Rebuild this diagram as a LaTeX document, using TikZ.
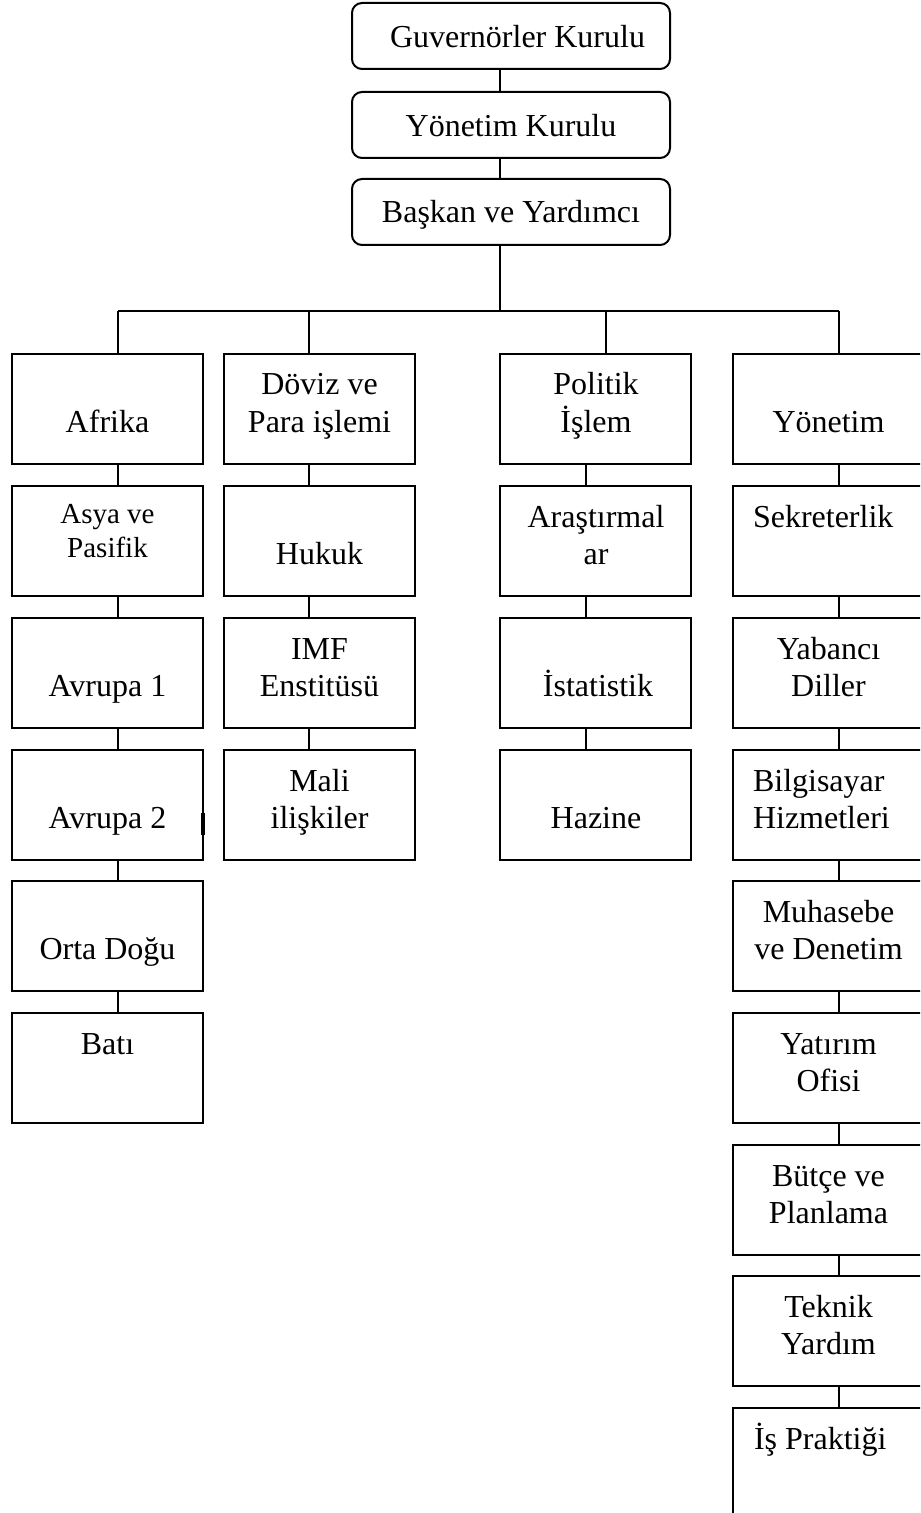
\documentclass[tikz,border=0pt]{standalone}
\usepackage{fontspec}
\setmainfont{Liberation Serif}
\begin{document}
\begin{tikzpicture}[x=0.5pt,y=-0.5pt,line width=1pt,
  topbox/.style={draw,rounded corners=5pt,minimum width=159pt,minimum height=33pt,inner sep=0pt,outer sep=0pt,anchor=north west},
  orgbox/.style={draw,minimum width=95.5pt,minimum height=55pt,inner sep=0pt,outer sep=0pt,anchor=north west},
  openbox/.style={orgbox,minimum height=60pt},
  lbl/.style={inner sep=0pt,outer sep=0pt,font=\fontsize{16pt}{18.5pt}\selectfont,anchor=base},
  lbll/.style={lbl,anchor=base west},
  small/.style={lbl,font=\fontsize{14.5pt}{17pt}\selectfont},
  link/.style={draw,line width=1pt}]
\useasboundingbox (0,0) rectangle (920,1513);
\clip (0,0) rectangle (920,1513);
% guide coordinates
\coordinate (tx) at (500,0);
\coordinate (bus) at (0,311);
\coordinate (x1) at (118,0);
\coordinate (x2) at (309,0);
\coordinate (x3) at (606,0);
\coordinate (x3i) at (586,0);
\coordinate (x4) at (839,0);
% top boxes
\node[topbox] (gov) at (352,3) {};
\node[lbll] (gov-t) at (390,48) {Guvernörler Kurulu};
\node[topbox] (yk) at (352,92) {};
\node[lbl] (yk-t) at (511,137) {Yönetim Kurulu};
\node[topbox] (bsk) at (352,179) {};
\node[lbl] (bsk-t) at (511,223) {Başkan ve Yardımcı};
% column 1
\node[orgbox] (afrika) at (12,354) {};
\node[orgbox] (asya) at (12,486) {};
\node[orgbox] (avr1) at (12,618) {};
\node[orgbox] (avr2) at (12,750) {};
\node[orgbox] (orta) at (12,881) {};
\node[orgbox] (bati) at (12,1013) {};
\node[lbl] (afrika-t) at (107.5,432) {Afrika};
\node[small] (asya-t1) at (107.5,523) {Asya ve};
\node[small] (asya-t2) at (107.5,557) {Pasifik};
\node[lbl] (avr1-t) at (107.5,696) {Avrupa 1};
\node[lbl] (avr2-t) at (107.5,828) {Avrupa 2};
\node[lbl] (orta-t) at (107.5,959) {Orta Doğu};
\node[lbl] (bati-t) at (107.5,1054) {Batı};
% column 2
\node[orgbox] (doviz) at (224,354) {};
\node[orgbox] (hukuk) at (224,486) {};
\node[orgbox] (imf) at (224,618) {};
\node[orgbox] (mali) at (224,750) {};
\node[lbl] (doviz-t1) at (319.5,395) {Döviz ve};
\node[lbl] (doviz-t2) at (319.5,432) {Para işlemi};
\node[lbl] (hukuk-t) at (319.5,564) {Hukuk};
\node[lbl] (imf-t1) at (319.5,659) {IMF};
\node[lbl] (imf-t2) at (319.5,696) {Enstitüsü};
\node[lbl] (mali-t1) at (319.5,791) {Mali};
\node[lbl] (mali-t2) at (319.5,828) {ilişkiler};
% column 3
\node[orgbox] (politik) at (500,354) {};
\node[orgbox] (arast) at (500,486) {};
\node[orgbox] (istat) at (500,618) {};
\node[orgbox] (hazine) at (500,750) {};
\node[lbl] (politik-t1) at (596,395) {Politik};
\node[lbl] (politik-t2) at (596,432) {İşlem};
\node[lbl] (arast-t1) at (596,527) {Araştırmal};
\node[lbl] (arast-t2) at (596,564) {ar};
\node[lbl] (istat-t) at (598,696) {İstatistik};
\node[lbl] (hazine-t) at (596,828) {Hazine};
% column 4
\node[orgbox] (yon) at (733,354) {};
\node[orgbox] (sekr) at (733,486) {};
\node[orgbox] (yab) at (733,618) {};
\node[orgbox] (bilg) at (733,750) {};
\node[orgbox] (muh) at (733,881) {};
\node[orgbox] (yat) at (733,1013) {};
\node[orgbox] (butce) at (733,1145) {};
\node[orgbox] (tek) at (733,1276) {};
\node[openbox] (is) at (733,1408) {};
\node[lbl] (yon-t) at (828.5,432) {Yönetim};
\node[lbll] (sekr-t) at (753,527) {Sekreterlik};
\node[lbl] (yab-t1) at (828.5,659) {Yabancı};
\node[lbl] (yab-t2) at (828.5,696) {Diller};
\node[lbll] (bilg-t1) at (753,791) {Bilgisayar};
\node[lbll] (bilg-t2) at (753,828) {Hizmetleri};
\node[lbl] (muh-t1) at (828.5,922) {Muhasebe};
\node[lbl] (muh-t2) at (828.5,959) {ve Denetim};
\node[lbl] (yat-t1) at (828.5,1054) {Yatırım};
\node[lbl] (yat-t2) at (828.5,1091) {Ofisi};
\node[lbl] (butce-t1) at (828.5,1186) {Bütçe ve};
\node[lbl] (butce-t2) at (828.5,1223) {Planlama};
\node[lbl] (tek-t1) at (828.5,1317) {Teknik};
\node[lbl] (tek-t2) at (828.5,1354) {Yardım};
\node[lbll] (is-t) at (754,1449) {İş Praktiği};
% connectors: top
\draw[link] (gov.south -| tx) -- (yk.north -| tx);
\draw[link] (yk.south -| tx) -- (bsk.north -| tx);
\draw[link] (bsk.south -| tx) -- (bus -| tx);
\draw[link] (bus -| x1) -- (bus -| x4);
\draw[link] (bus -| x1) -- (afrika.north -| x1);
\draw[link] (bus -| x2) -- (doviz.north -| x2);
\draw[link] (bus -| x3) -- (politik.north -| x3);
\draw[link] (bus -| x4) -- (yon.north -| x4);
% column 1
\draw[link] (afrika.south -| x1) -- (asya.north -| x1);
\draw[link] (asya.south -| x1) -- (avr1.north -| x1);
\draw[link] (avr1.south -| x1) -- (avr2.north -| x1);
\draw[link] (avr2.south -| x1) -- (orta.north -| x1);
\draw[link] (orta.south -| x1) -- (bati.north -| x1);
% column 2
\draw[link] (doviz.south -| x2) -- (hukuk.north -| x2);
\draw[link] (hukuk.south -| x2) -- (imf.north -| x2);
\draw[link] (imf.south -| x2) -- (mali.north -| x2);
% column 3
\draw[link] (politik.south -| x3i) -- (arast.north -| x3i);
\draw[link] (arast.south -| x3i) -- (istat.north -| x3i);
\draw[link] (istat.south -| x3i) -- (hazine.north -| x3i);
% column 4
\draw[link] (yon.south -| x4) -- (sekr.north -| x4);
\draw[link] (sekr.south -| x4) -- (yab.north -| x4);
\draw[link] (yab.south -| x4) -- (bilg.north -| x4);
\draw[link] (bilg.south -| x4) -- (muh.north -| x4);
\draw[link] (muh.south -| x4) -- (yat.north -| x4);
\draw[link] (yat.south -| x4) -- (butce.north -| x4);
\draw[link] (butce.south -| x4) -- (tek.north -| x4);
\draw[link] (tek.south -| x4) -- (is.north -| x4);
% small thickened mark on Avrupa 2 border
\draw[line width=1.8pt] (avr2.north east) ++(0,63) -- ++(0,22);
\end{tikzpicture}
\end{document}
